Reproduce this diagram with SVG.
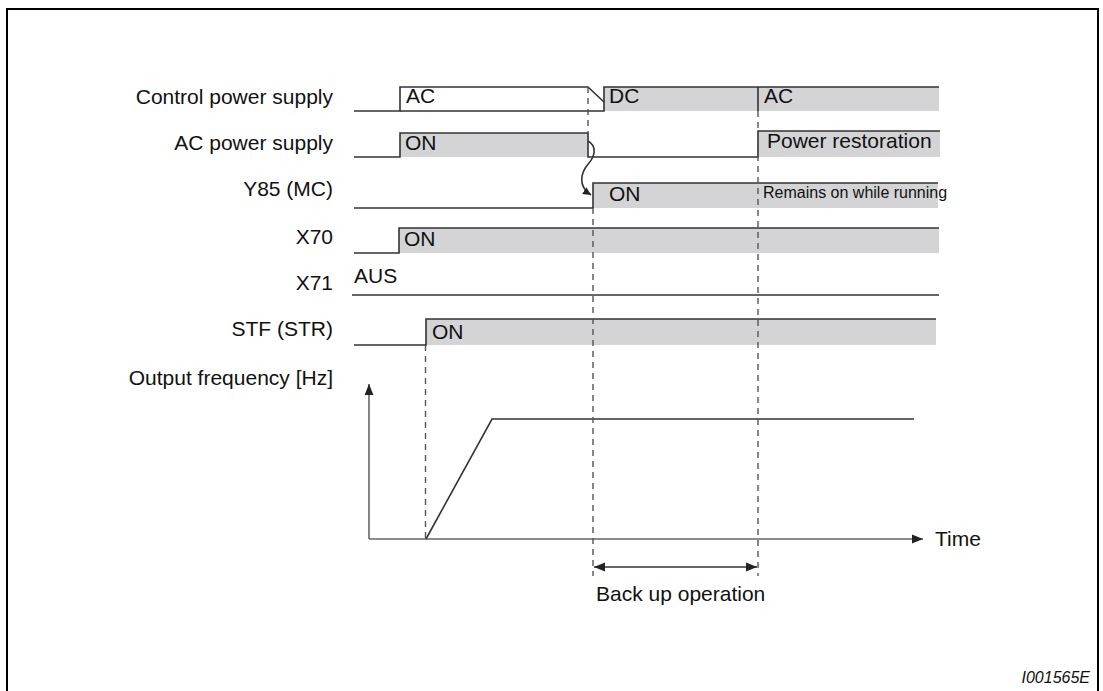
<svg xmlns="http://www.w3.org/2000/svg" width="1103" height="691" viewBox="0 0 1103 691">
<defs>
<style>
text{font-family:"Liberation Sans",Arial,sans-serif;font-size:21px;fill:#111}
.lbl{text-anchor:end}
.sig{fill:none;stroke:#333;stroke-width:1.6}
.box{fill:#d4d4d6;stroke:none}
.dash{fill:none;stroke:#555;stroke-width:1.4;stroke-dasharray:6,5}
.axis{fill:none;stroke:#666;stroke-width:1.6}
.small{font-size:16px}
</style>
<marker id="ah" viewBox="0 0 10 10" refX="10" refY="5" markerWidth="8" markerHeight="8" markerUnits="userSpaceOnUse" orient="auto-start-reverse">
<path d="M0,0 L10,5 L0,10 z" fill="#222"/>
</marker>
<marker id="ah2" viewBox="0 0 10 10" refX="10" refY="5" markerWidth="11" markerHeight="11" markerUnits="userSpaceOnUse" orient="auto-start-reverse">
<path d="M0,1 L10,5 L0,9 z" fill="#222"/>
</marker>
</defs>
<rect width="1103" height="691" fill="#fff"/>
<rect x="7" y="9" width="1091" height="700" fill="none" stroke="#000" stroke-width="2"/>

<g id="labels">
<text class="lbl" x="333" y="104">Control power supply</text>
<text class="lbl" x="333" y="150">AC power supply</text>
<text class="lbl" x="333" y="196">Y85 (MC)</text>
<text class="lbl" x="333" y="244">X70</text>
<text class="lbl" x="333" y="290">X71</text>
<text class="lbl" x="333" y="336">STF (STR)</text>
<text class="lbl" x="333" y="385">Output frequency [Hz]</text>
</g>

<g id="control-power">
<rect class="box" x="604" y="87" width="335" height="24"/>
<path class="sig" d="M354,111 H400 V87 H588 L604,102"/>
<path class="sig" d="M400,111 H604 V87 H939"/>
<path class="sig" d="M758,87 V111"/>
<text x="406" y="103">AC</text>
<text x="609" y="103">DC</text>
<text x="764" y="103">AC</text>
</g>

<g id="ac-power">
<rect class="box" x="400" y="133" width="188" height="24"/>
<rect class="box" x="758" y="131" width="182" height="26"/>
<path class="sig" d="M354,157 H400 V133 H588 V157 H758 V131 H940"/>
<text x="405" y="150">ON</text>
<text x="767" y="148">Power restoration</text>
</g>

<g id="y85">
<rect class="box" x="593" y="183" width="345" height="25"/>
<path class="sig" d="M354,208 H593 V183 H938"/>
<text x="609" y="201">ON</text>
<text class="small" x="763" y="198">Remains on while running</text>
</g>

<g id="x70">
<rect class="box" x="399" y="228" width="540" height="25"/>
<path class="sig" d="M354,253 H399 V228 H939"/>
<text x="404" y="246">ON</text>
</g>

<g id="x71">
<path class="sig" d="M352,295 H939"/>
<text x="354" y="283">AUS</text>
</g>

<g id="stf">
<rect class="box" x="426" y="319" width="510" height="26"/>
<path class="sig" d="M354,345 H426 V319 H936"/>
<text x="432" y="339">ON</text>
</g>

<g id="frequency">
<path class="axis" d="M369,539 V384" marker-end="url(#ah2)"/>
<path class="axis" d="M369,539 H923" marker-end="url(#ah2)"/>
<path class="sig" d="M426,539 L492,419 H914"/>
<text x="935" y="546">Time</text>
</g>

<g id="connectors">
<path class="dash" d="M588,87 V133"/>
<path class="dash" d="M593,208 V576"/>
<path class="dash" d="M758,111 V576"/>
<path class="dash" d="M425.5,345 V539"/>
<path class="sig" d="M588,141 C597,146 595,156 589,163 C581,172 577,186 591,195" marker-end="url(#ah)"/>
<path class="sig" d="M594,567 H757" marker-start="url(#ah2)" marker-end="url(#ah2)"/>
<text x="596" y="601">Back up operation</text>
</g>

<text x="1090" y="683" text-anchor="end" style="font-style:italic;font-size:16px">I001565E</text>
</svg>
